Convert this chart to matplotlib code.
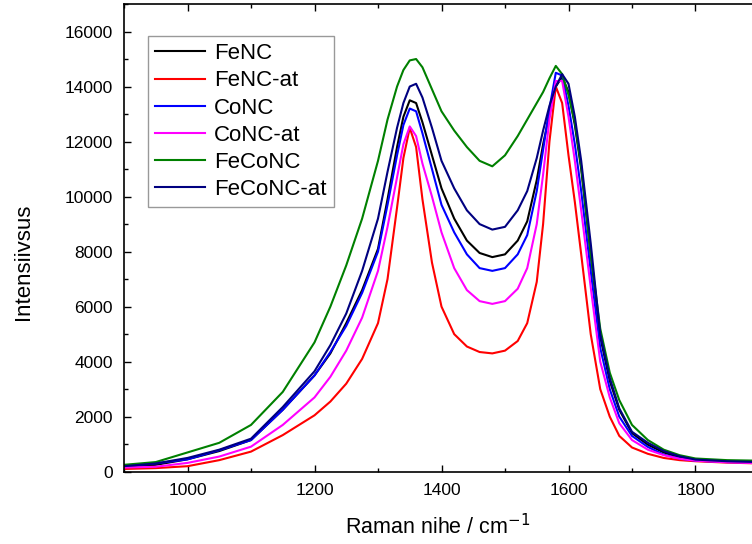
import matplotlib
matplotlib.use('Agg')
import matplotlib.pyplot as plt
from matplotlib.ticker import MultipleLocator

plt.rcParams['font.family'] = ['Liberation Sans', 'DejaVu Sans']

# Raman shift grid (cm-1) and intensities
shift = [900, 950, 1000, 1050, 1100, 1150, 1200, 1225, 1250, 1275, 1300, 1315,
         1330, 1340, 1350, 1360, 1370, 1385, 1400, 1420, 1440, 1460, 1480, 1500,
         1520, 1535, 1550, 1560, 1570, 1580, 1590, 1600, 1610, 1620, 1635, 1650,
         1665, 1680, 1700, 1725, 1750, 1775, 1800, 1850, 1900]

fenc = [150, 250, 450, 750, 1150, 2250, 3500, 4300, 5400, 6600, 8100, 9900,
        11800, 12900, 13500, 13400, 12700, 11500, 10300, 9200, 8400, 7950, 7800, 7900,
        8400, 9100, 10600, 11900, 13000, 14000, 14350, 13800, 12600, 11000, 7900, 4900,
        3300, 2250, 1400, 980, 700, 520, 420, 360, 340]
fenc_at = [100, 130, 200, 420, 730, 1330, 2050, 2550, 3200, 4100, 5400, 7000,
           9600, 11400, 12500, 11800, 9900, 7600, 6000, 5000, 4550, 4350, 4300, 4400,
           4750, 5400, 6900, 9000, 12000, 14000, 13400, 11500, 9800, 7900, 5000, 3000,
           2000, 1300, 880, 650, 500, 420, 380, 330, 300]
conc = [200, 300, 450, 780, 1150, 2250, 3500, 4350, 5300, 6500, 8000, 9700,
        11500, 12600, 13200, 13100, 12300, 11000, 9700, 8700, 7900, 7400, 7300, 7400,
        7900, 8600, 10200, 11700, 13200, 14500, 14400, 13300, 11900, 10200, 7300, 4500,
        3000, 2000, 1300, 900, 620, 480, 400, 350, 330]
conc_at = [150, 180, 320, 550, 910, 1700, 2700, 3450, 4400, 5600, 7300, 8900,
           10700, 11900, 12550, 12200, 11200, 10000, 8700, 7400, 6600, 6200, 6100, 6200,
           6650, 7400, 9000, 10800, 12800, 14200, 14200, 12900, 11300, 9500, 6700, 4000,
           2700, 1760, 1150, 800, 600, 470, 400, 340, 310]
feconc = [250, 350, 700, 1050, 1700, 2900, 4700, 6000, 7500, 9200, 11300, 12800,
          14000, 14600, 14950, 15000, 14700, 13900, 13100, 12400, 11800, 11300, 11100, 11500,
          12200, 12800, 13400, 13800, 14300, 14750, 14450, 13700, 12700, 11100, 7900, 5200,
          3600, 2600, 1700, 1150, 800, 600, 480, 420, 400]
feconc_at = [200, 300, 500, 800, 1200, 2350, 3650, 4600, 5750, 7300, 9200, 10900,
             12500, 13400, 14000, 14100, 13600, 12500, 11300, 10300, 9500, 9000, 8800, 8900,
             9500, 10200, 11400, 12400, 13300, 14000, 14450, 14100, 12900, 11300, 8300, 5000,
             3400, 2300, 1450, 1050, 750, 560, 440, 380, 350]

labels = ['FeNC', 'FeNC-at', 'CoNC', 'CoNC-at', 'FeCoNC', 'FeCoNC-at']
series = [fenc, fenc_at, conc, conc_at, feconc, feconc_at]
colors = ['#000000', '#ff0000', '#0000ff', '#ff00ff', '#008000', '#000080']

fig = plt.figure(figsize=(7.52, 5.44), dpi=100)
ax = fig.add_axes([124 / 752, 72.3 / 544, 635 / 752, 467.7 / 544])

for y, lab, c in zip(series, labels, colors):
    ax.plot(shift, y, color=c, lw=1.5, label=lab)

ax.set_xlim(900, 1900)
ax.set_ylim(0, 17000)
ax.xaxis.set_major_locator(MultipleLocator(200))
ax.xaxis.set_minor_locator(MultipleLocator(100))
ax.yaxis.set_major_locator(MultipleLocator(2000))
ax.yaxis.set_minor_locator(MultipleLocator(1000))
ax.tick_params(which='both', direction='in', top=True, right=True, width=1)
ax.tick_params(which='major', length=5)
ax.tick_params(which='minor', length=3)
ax.tick_params(axis='x', labelsize=12.5, pad=8)
ax.tick_params(axis='y', labelsize=12.5, pad=8)
for s in ax.spines.values():
    s.set_linewidth(1.2)

ax.set_xlabel('Raman nihe / cm$^{-1}$', fontsize=15.5)
ax.set_ylabel('Intensiivsus', fontsize=16)
ax.xaxis.set_label_coords((438 - 124) / 635, -(514 - 471.7) / 467.7)
ax.yaxis.set_label_coords(-(124 - 34) / 635, (471.7 - 262) / 467.7)

leg = ax.legend(loc='upper left', bbox_to_anchor=((148 - 124) / 635, (471.7 - 36) / 467.7),
                fontsize=16, frameon=True, fancybox=False, edgecolor='#808080',
                handlelength=2.25, handletextpad=0.4, labelspacing=0.28,
                borderpad=0.32, borderaxespad=0)
leg.get_frame().set_linewidth(1.0)

plt.savefig('out.png', dpi=100)
